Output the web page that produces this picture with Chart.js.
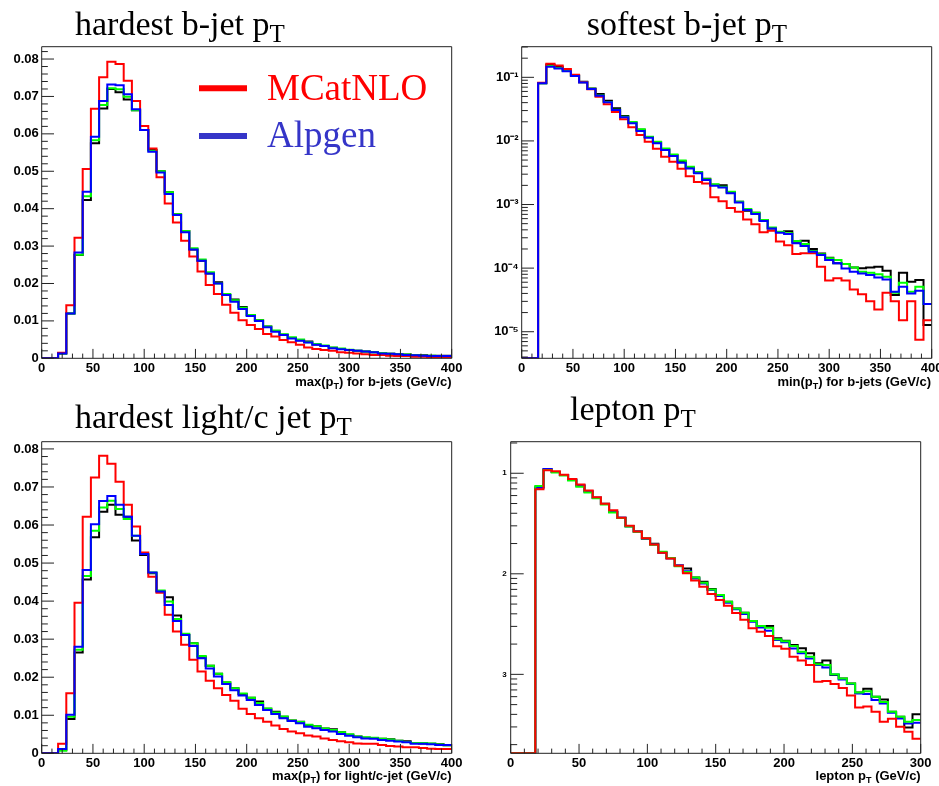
<!DOCTYPE html>
<html><head><meta charset="utf-8">
<script src="https://cdn.jsdelivr.net/npm/chart.js@4.4.1/dist/chart.umd.min.js"></script>
<style>
html,body{margin:0;padding:0;background:#fff;width:939px;height:786px;overflow:hidden}
canvas{position:absolute}
svg{position:absolute;left:0;top:0}
</style></head><body>
<canvas id="c1" width="470" height="350" style="left:0px;top:40px"></canvas>
<canvas id="c2" width="469" height="350" style="left:470px;top:40px"></canvas>
<canvas id="c3" width="470" height="356" style="left:0px;top:430px"></canvas>
<canvas id="c4" width="469" height="356" style="left:470px;top:430px"></canvas>
<svg width="939" height="786" xmlns="http://www.w3.org/2000/svg">
  <g font-family="'Liberation Serif','Times New Roman',serif" font-size="34" fill="#000">
    <text x="75" y="35">hardest b-jet p<tspan font-size="25" dy="7">T</tspan></text>
    <text x="586.7" y="35">softest b-jet p<tspan font-size="25" dy="7">T</tspan></text>
    <text x="75" y="428">hardest light/c jet p<tspan font-size="25" dy="7">T</tspan></text>
    <text x="570" y="420">lepton p<tspan font-size="25" dy="7">T</tspan></text>
  </g>
  <line x1="199" y1="88.3" x2="247" y2="88.3" stroke="#ff0000" stroke-width="6"/>
  <text x="267" y="100" font-family="'Liberation Serif','Times New Roman',serif" font-size="37" fill="#ff0000">MCatNLO</text>
  <line x1="199" y1="136" x2="247" y2="136" stroke="#3535c8" stroke-width="6"/>
  <text x="267" y="146.7" font-family="'Liberation Serif','Times New Roman',serif" font-size="37" fill="#3535c8">Alpgen</text>
  <g font-family="'Liberation Sans',Arial,sans-serif" font-weight="bold" font-size="13" fill="#000" text-anchor="end">
    <text x="451.7" y="386">max(p<tspan font-size="9" dy="3">T</tspan><tspan dy="-3">) for b-jets (GeV/c)</tspan></text>
    <text x="931" y="386">min(p<tspan font-size="9" dy="3">T</tspan><tspan dy="-3">) for b-jets (GeV/c)</tspan></text>
    <text x="451.7" y="780">max(p<tspan font-size="9" dy="3">T</tspan><tspan dy="-3">) for light/c-jet (GeV/c)</tspan></text>
    <text x="920.7" y="780">lepton p<tspan font-size="9" dy="3">T</tspan><tspan dy="-3"> (GeV/c)</tspan></text>
  </g>
</svg>
<script>
// ---------------- data ----------------
// hardest b-jet pT : 50 bins of 8 GeV from 0 to 400
const hardBBinWidth = 8;
const hardB_black = [0,0,0.0013,0.0120,0.0276,0.0423,0.0575,0.0668,0.0720,0.0711,0.0692,0.0663,0.0610,0.0557,0.0500,0.0444,0.0385,0.0340,0.0291,0.0261,0.0227,0.0203,0.0169,0.0157,0.0137,0.0115,0.0102,0.0085,0.0073,0.0063,0.0054,0.0048,0.0045,0.0037,0.0033,0.0028,0.0025,0.0022,0.0020,0.0018,0.0016,0.0014,0.0012,0.0011,0.0010,0.0008,0.0008,0.0007,0.0007,0.0007];
const hardB_green = [0,0,0.0013,0.0120,0.0277,0.0433,0.0583,0.0677,0.0722,0.0719,0.0699,0.0663,0.0610,0.0555,0.0500,0.0444,0.0385,0.0340,0.0294,0.0264,0.0230,0.0200,0.0172,0.0155,0.0135,0.0116,0.0102,0.0085,0.0074,0.0064,0.0056,0.0050,0.0043,0.0038,0.0034,0.0029,0.0026,0.0023,0.0020,0.0018,0.0016,0.0014,0.0012,0.0011,0.0010,0.0008,0.0007,0.0007,0.0006,0.0006];
const hardB_blue = [0,0,0.0013,0.0120,0.0283,0.0445,0.0592,0.0688,0.0732,0.0730,0.0706,0.0666,0.0610,0.0552,0.0497,0.0439,0.0383,0.0337,0.0291,0.0261,0.0227,0.0200,0.0169,0.0151,0.0132,0.0113,0.0100,0.0083,0.0071,0.0062,0.0053,0.0047,0.0042,0.0036,0.0033,0.0027,0.0024,0.0022,0.0020,0.0018,0.0016,0.0013,0.0012,0.0011,0.0009,0.0008,0.0007,0.0006,0.0006,0.0006];
const hardB_red = [0,0,0.0015,0.0142,0.0322,0.0506,0.0667,0.0751,0.0793,0.0787,0.0742,0.0688,0.0621,0.0561,0.0484,0.0414,0.0363,0.0314,0.0272,0.0232,0.0196,0.0172,0.0143,0.0122,0.0102,0.0089,0.0078,0.0065,0.0058,0.0049,0.0043,0.0036,0.0029,0.0025,0.0022,0.0020,0.0016,0.0015,0.0013,0.0011,0.0009,0.0009,0.0007,0.0006,0.0006,0.0004,0.0004,0.0003,0.0003,0.0003];

// softest b-jet pT : 50 bins of 8 GeV from 0 to 400 (log y)
const softBBinWidth = 8;
const softB_black = [0,0,0.0805,0.157,0.147,0.128,0.107,0.0850,0.0670,0.0546,0.0430,0.0325,0.0247,0.0195,0.0150,0.0115,0.0095,0.0074,0.0060,0.0048,0.0038,0.00321,0.00255,0.00205,0.00200,0.00155,0.00111,0.00080,0.00074,0.00057,0.00042,0.00037,0.00038,0.00026,0.00027,0.000200,0.000170,0.000146,0.000119,0.000116,0.000102,0.0000993,0.000102,0.000105,0.0000912,0.0000378,0.0000848,0.0000612,0.000065,0.0000127];
const softB_green = [0,0,0.0805,0.150,0.140,0.126,0.106,0.0840,0.0660,0.0520,0.0410,0.0310,0.0240,0.0199,0.0152,0.0116,0.0097,0.0076,0.0061,0.0049,0.00394,0.00321,0.00249,0.00208,0.00191,0.00159,0.00111,0.00085,0.000744,0.00057,0.000437,0.000374,0.000352,0.000267,0.000239,0.000186,0.000165,0.000143,0.000134,0.000116,0.000102,0.000088,0.0000848,0.0000798,0.0000733,0.000041,0.000059,0.0000426,0.000051,0.0000272];
const softB_blue = [0,0,0.0805,0.147,0.138,0.125,0.105,0.0832,0.0654,0.0514,0.0404,0.0306,0.0235,0.0189,0.0143,0.0112,0.00916,0.0072,0.00579,0.00455,0.0037,0.00309,0.00243,0.00198,0.00186,0.0015,0.00108,0.00082,0.00071,0.00055,0.00042,0.00036,0.000343,0.000245,0.000222,0.000181,0.000161,0.000134,0.000119,0.000099,0.0000878,0.0000826,0.0000778,0.0000715,0.0000665,0.0000425,0.000051,0.000040,0.0000441,0.0000272];
const softB_red = [0,0,0.0824,0.164,0.154,0.135,0.110,0.0840,0.0651,0.0497,0.0378,0.0285,0.0220,0.0164,0.0124,0.00973,0.0075,0.00566,0.00472,0.00365,0.00278,0.00225,0.00215,0.0013,0.00113,0.00088,0.00077,0.00058,0.00049,0.000365,0.000388,0.000262,0.000228,0.000166,0.000172,0.000172,0.000105,0.000064,0.000069,0.000064,0.000046,0.000039,0.000030,0.0000224,0.000041,0.000030,0.0000152,0.000030,0.0000075,0.0000152];

// hardest light/c jet pT : 50 bins of 8 GeV from 0 to 400
const hardLBinWidth = 8;
const hardL_black = [0,0,0.0009,0.0090,0.0265,0.0457,0.0568,0.0635,0.0653,0.0627,0.0622,0.0559,0.0521,0.0473,0.0425,0.0410,0.0362,0.0311,0.0289,0.0254,0.0230,0.0209,0.0186,0.0171,0.0156,0.0146,0.0136,0.0117,0.0109,0.0096,0.0086,0.0083,0.0074,0.0071,0.0065,0.0063,0.0055,0.0049,0.0044,0.0041,0.0040,0.0038,0.0037,0.0033,0.0032,0.0027,0.0026,0.0025,0.0024,0.0021];
const hardL_green = [0,0,0.0007,0.0096,0.0272,0.0466,0.0585,0.0646,0.0664,0.0642,0.0616,0.0572,0.0524,0.0475,0.0428,0.0399,0.0353,0.0314,0.0289,0.0256,0.0230,0.0209,0.0187,0.0171,0.0157,0.0146,0.0132,0.0118,0.0107,0.0097,0.0086,0.0082,0.0075,0.0071,0.0065,0.0061,0.0055,0.0050,0.0044,0.0042,0.0041,0.0038,0.0036,0.0033,0.0030,0.0027,0.0027,0.0026,0.0023,0.0021];
const hardL_blue = [0,0,0.0011,0.0101,0.0280,0.0482,0.0602,0.0663,0.0676,0.0653,0.0622,0.0572,0.0524,0.0475,0.0425,0.0390,0.0348,0.0311,0.0282,0.0250,0.0223,0.0202,0.0182,0.0166,0.0152,0.0140,0.0127,0.0114,0.0103,0.0092,0.0085,0.0079,0.0070,0.0066,0.0061,0.0057,0.0051,0.0046,0.0042,0.0039,0.0038,0.0035,0.0033,0.0031,0.0029,0.0025,0.0025,0.0024,0.0022,0.0022];
const hardL_red = [0,0,0.0025,0.0158,0.0396,0.0622,0.0725,0.0782,0.0761,0.0714,0.0653,0.0596,0.0528,0.0464,0.0422,0.0364,0.0320,0.0285,0.0246,0.0215,0.0191,0.0171,0.0153,0.0138,0.0117,0.0103,0.0092,0.0083,0.0073,0.0064,0.0057,0.0053,0.0047,0.0044,0.0039,0.0035,0.0032,0.0029,0.0026,0.0025,0.0025,0.0022,0.0019,0.0018,0.0016,0.0016,0.0014,0.0012,0.0011,0.0011];

// lepton pT : 50 bins of 6 GeV from 0 to 300 (log y)
const lepBinWidth = 6;
const lep_black = [0,0,0,0.072,0.109,0.103,0.096,0.086,0.0755,0.066,0.057,0.0497,0.0412,0.036,0.0298,0.0263,0.0224,0.0199,0.0163,0.0143,0.0121,0.0113,0.0092,0.00833,0.00706,0.00605,0.00528,0.00453,0.0041,0.00339,0.00303,0.00303,0.00228,0.00216,0.00196,0.00182,0.00162,0.00129,0.00137,0.000984,0.000912,0.000813,0.000661,0.000719,0.000598,0.000563,0.000425,0.000379,0.000296,0.0004];
const lep_blue = [0,0,0,0.072,0.1105,0.103,0.096,0.086,0.0755,0.066,0.057,0.0495,0.0415,0.036,0.0298,0.0263,0.0222,0.0196,0.0163,0.0143,0.0121,0.0106,0.0090,0.00803,0.0069,0.00601,0.00516,0.00443,0.00398,0.00334,0.00293,0.00272,0.00219,0.00208,0.00181,0.00162,0.00144,0.00124,0.00117,0.000998,0.00089,0.0008,0.000646,0.000637,0.000555,0.000514,0.000415,0.000364,0.000325,0.00033];
const lep_green = [0,0,0,0.0748,0.108,0.1015,0.0949,0.0846,0.0736,0.0643,0.0564,0.0490,0.0406,0.0358,0.0296,0.0262,0.0224,0.0195,0.0166,0.0144,0.0119,0.0104,0.0092,0.00814,0.0070,0.00615,0.00528,0.00453,0.0041,0.00339,0.00303,0.00291,0.00224,0.00214,0.00191,0.00168,0.0015,0.00126,0.00124,0.0010,0.00091,0.00081,0.00066,0.00068,0.0006,0.00053,0.000425,0.000379,0.000338,0.000351];
const lep_red = [0,0,0,0.0693,0.107,0.105,0.0966,0.0875,0.0772,0.0672,0.0577,0.0497,0.0428,0.0362,0.0300,0.0264,0.0226,0.0196,0.0162,0.0142,0.0120,0.0101,0.0086,0.00745,0.0063,0.00548,0.0048,0.00407,0.0035,0.00287,0.00265,0.00241,0.0019,0.0018,0.0015,0.00137,0.00124,0.000845,0.00086,0.0008,0.00073,0.000615,0.000468,0.00048,0.000425,0.000338,0.000362,0.000301,0.000269,0.000229];

// tick labels for the log axes (by decade exponent -1, -2, ...)
const softDecadeLabels = ['10\u207B\u00B9','10\u207B\u00B2','10\u207B\u00B3','10\u207B\u2074','10\u207B\u2075'];
const lepDecadeLabels = ['1','2','3'];

// ---------------- drawing ----------------
Chart.defaults.font.family = "'Liberation Sans', Arial, sans-serif";
Chart.defaults.color = '#000';

function histPoints(values, binWidth, floor) {
  const pts = values.map((v, i) => ({x: i * binWidth, y: (v === 0 && floor !== undefined) ? floor : v}));
  pts.push({x: values.length * binWidth, y: pts[pts.length - 1].y});
  return pts;
}

const rootAxes = {
  id: 'rootAxes',
  afterDraw(chart, args, o) {
    const {ctx, chartArea: a} = chart;
    const xs = chart.scales.x, ys = chart.scales.y;
    ctx.save();
    ctx.strokeStyle = '#222';
    ctx.lineWidth = 1;
    ctx.beginPath();
    ctx.rect(a.left, a.top, a.right - a.left, a.bottom - a.top);
    const nx = Math.round((xs.max - xs.min) / o.xMinor);
    for (let i = 0; i <= nx; i++) {
      const v = xs.min + i * o.xMinor;
      const p = xs.getPixelForValue(v);
      const r = v / o.xMajor;
      const len = Math.abs(r - Math.round(r)) < 1e-6 ? o.xLen : o.xLen / 2;
      ctx.moveTo(p, a.bottom); ctx.lineTo(p, a.bottom - len);
    }
    if (o.log) {
      const e0 = Math.floor(Math.log10(ys.min)), e1 = Math.ceil(Math.log10(ys.max));
      for (let e = e0; e <= e1; e++) for (let k = 1; k <= 9; k++) {
        const v = k * Math.pow(10, e);
        if (v < ys.min || v > ys.max) continue;
        const p = ys.getPixelForValue(v);
        const len = k === 1 ? o.yLen : o.yLen / 2;
        ctx.moveTo(a.left, p); ctx.lineTo(a.left + len, p);
      }
    } else {
      const ny = Math.floor((ys.max - ys.min) / o.yMinor + 1e-6);
      for (let i = 0; i <= ny; i++) {
        const v = ys.min + i * o.yMinor;
        const p = ys.getPixelForValue(v);
        const r = v / o.yMajor;
        const len = Math.abs(r - Math.round(r)) < 1e-6 ? o.yLen : o.yLen / 2;
        ctx.moveTo(a.left, p); ctx.lineTo(a.left + len, p);
      }
    }
    ctx.stroke();
    ctx.restore();
  }
};

const tickFont = {size: 13, weight: 'bold'};

function makeChart(id, p) {
  const floor = p.log ? p.yMin : undefined;
  const series = [
    {d: p.black, c: '#000000', o: p.orderBlack},
    {d: p.green, c: '#00ff00', o: p.orderGreen},
    {d: p.blue,  c: '#0000ff', o: p.orderBlue},
    {d: p.red,   c: '#ff0000', o: p.orderRed}
  ];
  const datasets = series.map(s => ({
    data: histPoints(s.d, p.binWidth, floor),
    borderColor: s.c, borderWidth: 2, pointRadius: 0, fill: false,
    stepped: true, tension: 0, order: s.o, borderJoinStyle: 'miter', borderCapStyle: 'butt'
  }));
  const yTicks = p.log ? {
    autoSkip: false, padding: p.yPad, font: p.yFont || tickFont,
    callback: (v) => {
      const e = Math.log10(v);
      if (Math.abs(e - Math.round(e)) > 1e-6) return '';
      const idx = -Math.round(e) - 1;
      return p.decadeLabels[idx] !== undefined ? p.decadeLabels[idx] : '';
    }
  } : {
    stepSize: p.yStep, autoSkip: false, includeBounds: false, padding: p.yPad, font: tickFont,
    callback: (v) => v === 0 ? '0' : v.toFixed(2)
  };
  return new Chart(document.getElementById(id), {
    type: 'line',
    data: {datasets},
    options: {
      responsive: false, maintainAspectRatio: false, animation: false, devicePixelRatio: 1,
      events: [],
      layout: {padding: p.pad},
      plugins: {legend: {display: false}, tooltip: {enabled: false}, rootAxes: p.axes},
      scales: {
        x: {
          type: 'linear', min: 0, max: p.xMax,
          ticks: {stepSize: 50, autoSkip: false, includeBounds: false, maxRotation: 0, padding: 2, font: tickFont},
          grid: {display: false, drawTicks: false}, border: {display: false},
          afterFit: s => { s.height = 25; s.paddingLeft = 0; s.paddingRight = 0; }
        },
        y: {
          type: p.log ? 'logarithmic' : 'linear', min: p.yMin, max: p.yMax,
          ticks: yTicks,
          grid: {display: false, drawTicks: false}, border: {display: false},
          afterFit: s => { s.width = p.yWidth; s.paddingTop = 0; s.paddingBottom = 0; }
        }
      }
    },
    plugins: [rootAxes]
  });
}

makeChart('c1', {
  black: hardB_black, green: hardB_green, blue: hardB_blue, red: hardB_red, binWidth: hardBBinWidth,
  orderBlack: 3, orderGreen: 2, orderRed: 1, orderBlue: 0,
  xMax: 400, yMin: 0, yMax: 0.0833, yStep: 0.01, yWidth: 41.7, yPad: 3,
  pad: {left: 0, right: 18.3, top: 6.7, bottom: 6.7},
  axes: {xMajor: 50, xMinor: 10, xLen: 9.4, yMajor: 0.01, yMinor: 0.002, yLen: 12.3, log: false}
});
makeChart('c2', {
  black: softB_black, green: softB_green, blue: softB_blue, red: softB_red, binWidth: softBBinWidth,
  orderBlack: 3, orderGreen: 2, orderRed: 1, orderBlue: 0,
  xMax: 400, log: true, yMin: 3.82e-6, yMax: 0.303, yWidth: 51.7, yPad: 3, decadeLabels: softDecadeLabels,
  pad: {left: 0, right: 7.3, top: 6.7, bottom: 6.7},
  axes: {xMajor: 50, xMinor: 10, xLen: 9.4, yLen: 12.3, log: true}
});
makeChart('c3', {
  black: hardL_black, green: hardL_green, blue: hardL_blue, red: hardL_red, binWidth: hardLBinWidth,
  orderBlack: 3, orderGreen: 2, orderRed: 1, orderBlue: 0,
  xMax: 400, yMin: 0, yMax: 0.0819, yStep: 0.01, yWidth: 41.7, yPad: 3,
  pad: {left: 0, right: 18.3, top: 11.7, bottom: 7.7},
  axes: {xMajor: 50, xMinor: 10, xLen: 9.4, yMajor: 0.01, yMinor: 0.002, yLen: 12.3, log: false}
});
makeChart('c4', {
  black: lep_black, green: lep_green, blue: lep_blue, red: lep_red, binWidth: lepBinWidth,
  orderBlack: 3, orderBlue: 2, orderGreen: 1, orderRed: 0,
  xMax: 300, log: true, yMin: 1.64e-4, yMax: 0.206, yWidth: 40.7, yPad: 4, decadeLabels: lepDecadeLabels,
  yFont: {size: 8, weight: 'bold'},
  pad: {left: 0, right: 18.3, top: 11.7, bottom: 7.7},
  axes: {xMajor: 50, xMinor: 10, xLen: 9.4, yLen: 13, log: true}
});
</script>
</body></html>
